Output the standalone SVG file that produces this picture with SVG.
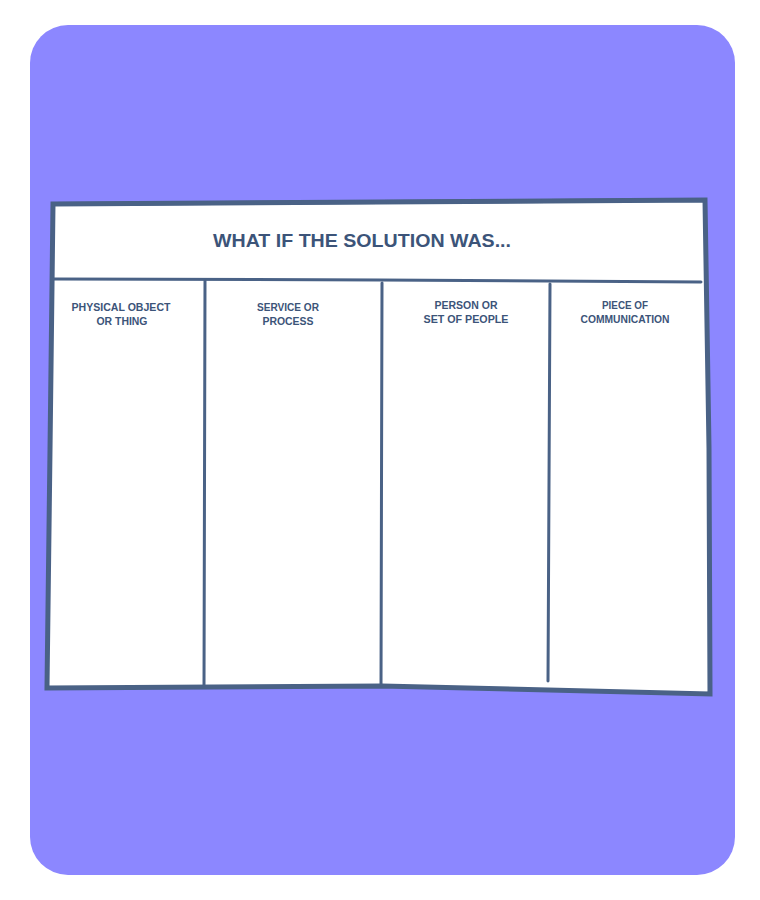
<svg xmlns="http://www.w3.org/2000/svg" width="760" height="900" viewBox="0 0 760 900">
<style>
.frame{fill:#ffffff;stroke:#4a6286;stroke-linejoin:miter}
.line{fill:none;stroke:#4a6286;stroke-linecap:round}
.title{font-family:"Liberation Sans",Arial,sans-serif;font-weight:bold;font-size:19px;fill:#3c5479;text-anchor:start}
.hdr{font-family:"Liberation Sans",Arial,sans-serif;font-weight:bold;font-size:10.5px;fill:#3c5479;text-anchor:middle}
</style>
<rect x="0" y="0" width="760" height="900" fill="#ffffff"/>
<rect x="30" y="25" width="705" height="850" rx="38" ry="38" fill="#8c87ff"/>
<g id="board">
  <path class="frame" d="M53,204 L380,202 L705,200 L709,448 L710,694 L382,686 L47,688 L50,450 Z" stroke-width="5"/>
  <path class="line" d="M53,204 L380,202 L705,200" stroke-width="4"/>
  <path class="line" d="M53,205 L50,450 L47,688" stroke-width="3"/>
</g>
<g id="connectors">
  <path class="line" d="M54,279 L380,280 L701,282" stroke-width="3"/>
  <path class="line" d="M205,281 L204,685" stroke-width="3"/>
  <path class="line" d="M382,283 L381,685" stroke-width="3"/>
  <path class="line" d="M550,284 L548,681" stroke-width="3"/>
</g>
<g id="title">
  <text class="title" x="213" y="247" textLength="298" lengthAdjust="spacingAndGlyphs">WHAT IF THE SOLUTION WAS...</text>
</g>
<g id="col1">
  <text class="hdr" x="121" y="311" textLength="99" lengthAdjust="spacingAndGlyphs">PHYSICAL OBJECT</text>
  <text class="hdr" x="122" y="325" textLength="51" lengthAdjust="spacingAndGlyphs">OR THING</text>
</g>
<g id="col2">
  <text class="hdr" x="288" y="311" textLength="62" lengthAdjust="spacingAndGlyphs">SERVICE OR</text>
  <text class="hdr" x="288" y="325" textLength="51" lengthAdjust="spacingAndGlyphs">PROCESS</text>
</g>
<g id="col3">
  <text class="hdr" x="466" y="309" textLength="63" lengthAdjust="spacingAndGlyphs">PERSON OR</text>
  <text class="hdr" x="466" y="323" textLength="85" lengthAdjust="spacingAndGlyphs">SET OF PEOPLE</text>
</g>
<g id="col4">
  <text class="hdr" x="625" y="309" textLength="46" lengthAdjust="spacingAndGlyphs">PIECE OF</text>
  <text class="hdr" x="625" y="323" textLength="89" lengthAdjust="spacingAndGlyphs">COMMUNICATION</text>
</g>
</svg>
